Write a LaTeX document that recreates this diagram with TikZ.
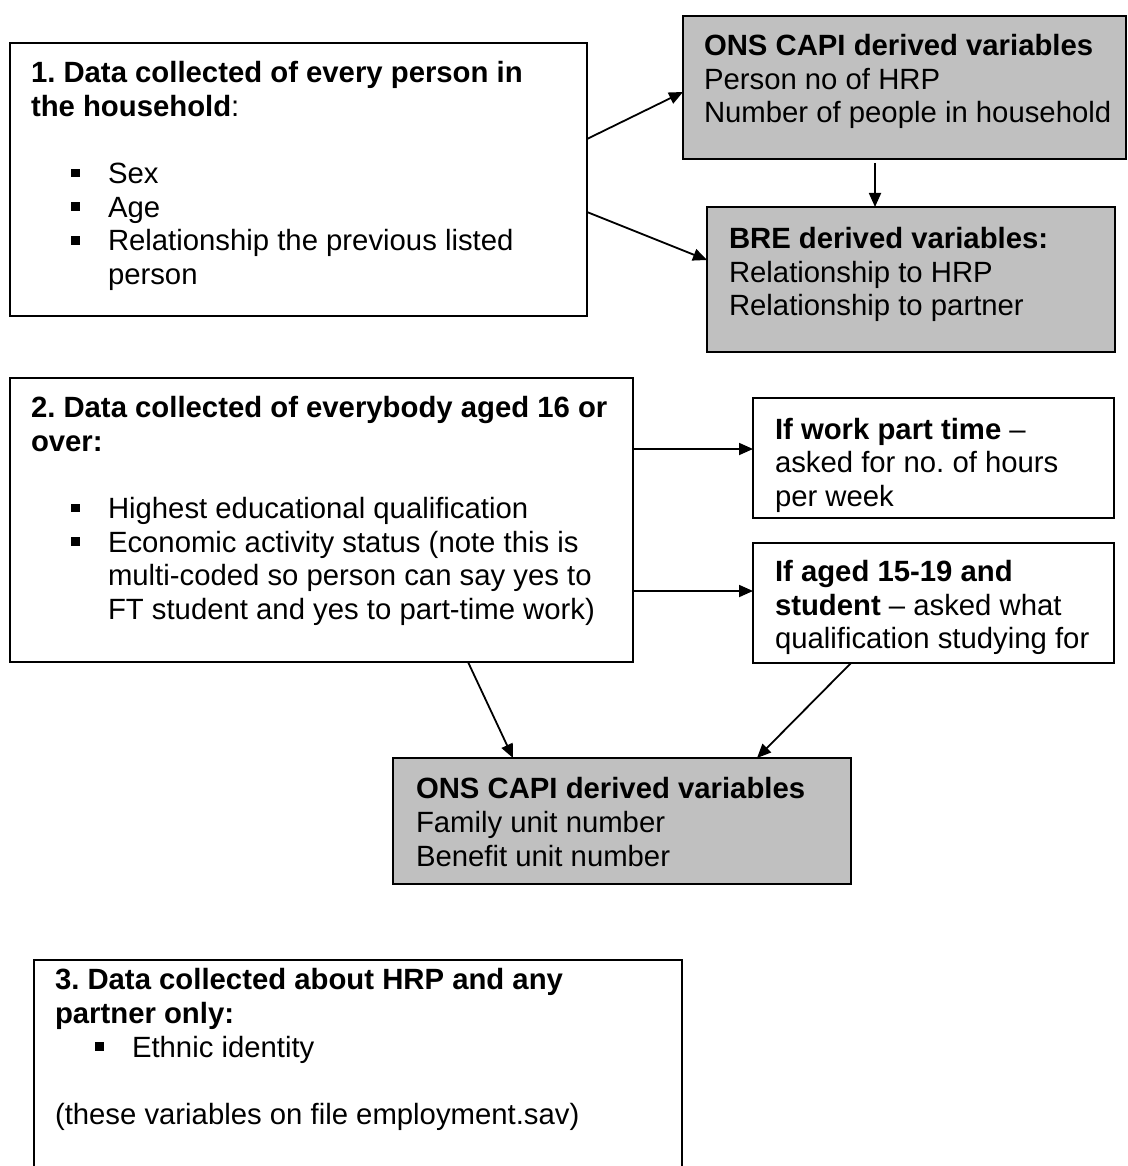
\documentclass[tikz,border=0pt]{standalone}
\usepackage{fontspec}
\setmainfont{Liberation Sans}
\usetikzlibrary{arrows.meta,calc}
\definecolor{boxgray}{RGB}{192,192,192}
\newcommand{\bsq}{\rule[6.3pt]{8.5pt}{8.5pt}}
\newcommand{\bitem}[1]{\hspace*{40pt}\makebox[37pt][l]{\bsq}#1}
\newcommand{\bcont}[1]{\hspace*{77pt}#1}
\frenchspacing
\begin{document}
\begin{tikzpicture}[x=1pt,y=-1pt,
  frame/.style={draw=black, line width=2pt, inner sep=0pt, outer sep=0pt, anchor=north west},
  grayframe/.style={frame, fill=boxgray},
  txt/.style={inner sep=0pt, outer sep=0pt, anchor=north west, align=left, font=\fontsize{29.3}{33.7}\selectfont\frenchspacing},
  conn/.style={line width=1.8pt, -{Triangle[length=14pt,width=12pt]}}]

\useasboundingbox (0,0) rectangle (1127,1166);
\fill[white] (0,0) rectangle (1127,1166);

% boxes
\node[frame, minimum width=577pt, minimum height=273pt] (b1) at (10,43) {};
\node[grayframe, minimum width=443pt, minimum height=143pt] (o1) at (683,16) {};
\node[grayframe, minimum width=408pt, minimum height=145pt] (bre) at (707,207) {};
\node[frame, minimum width=623pt, minimum height=284pt] (b2) at (10,378) {};
\node[frame, minimum width=361pt, minimum height=120pt] (wk) at (753,398) {};
\node[frame, minimum width=361pt, minimum height=120pt] (ag) at (753,543) {};
\node[grayframe, minimum width=458pt, minimum height=126pt] (o2) at (393,758) {};
\node[frame, minimum width=648pt, minimum height=216pt] (b3) at (34,960) {};

% texts
\node[txt] (t1) at (31,58.9) {\strut\textbf{1. Data collected of every person in}\\ \textbf{the household}:\\ \strut\\ \bitem{Sex}\\ \bitem{Age}\\ \bitem{Relationship the previous listed}\\ \bcont{person}};
\node[txt] (to1) at (704,31.9) {\strut\textbf{ONS CAPI derived variables}\\ Person no of HRP\\ Number of people in household};
\node[txt] (tbre) at (729,224.9) {\strut\textbf{BRE derived variables:}\\ Relationship to HRP\\ Relationship to partner};
\node[txt] (t2) at (31,393.9) {\strut\textbf{2. Data collected of everybody aged 16 or}\\ \textbf{over:}\\ \strut\\ \bitem{Highest educational qualification}\\ \bitem{Economic activity status (note this is}\\ \bcont{multi-coded so person can say yes to}\\ \bcont{FT student and yes to part-time work)}};
\node[txt] (twk) at (775,415.5) {\strut\textbf{If work part time} –\\ asked for no. of hours\\ per week};
\node[txt] (tag) at (775,558) {\strut\textbf{If aged 15-19 and}\\ \textbf{student} – asked what\\ qualification studying for};
\node[txt] (to2) at (416,775) {\strut\textbf{ONS CAPI derived variables}\\ Family unit number\\ Benefit unit number};
\node[txt] (t3) at (55,966) {\strut\textbf{3. Data collected about HRP and any}\\ \textbf{partner only:}\\ \bitem{Ethnic identity}\\ \strut\\ (these variables on file employment.sav)};

% connectors
\draw[conn] ($(b1.north east)+(0,96)$) -- ($(o1.north west)+(0,76)$);
\draw[conn] ($(b1.north east)+(0,169)$) -- ($(bre.north west)+(0,53)$);
\draw[conn] ($(o1.south west)+(192,4)$) -- ($(bre.north west)+(168,0)$);
\draw[conn] ($(b2.north east)+(0,71)$) -- ($(wk.north west)+(0,51)$);
\draw[conn] ($(b2.north east)+(0,213)$) -- ($(ag.north west)+(0,48)$);
\draw[conn] ($(b2.south west)+(458,0)$) -- ($(o2.north west)+(120,0)$);
\draw[conn] ($(ag.south west)+(98,0)$) -- ($(o2.north west)+(364,0)$);
\end{tikzpicture}
\end{document}
